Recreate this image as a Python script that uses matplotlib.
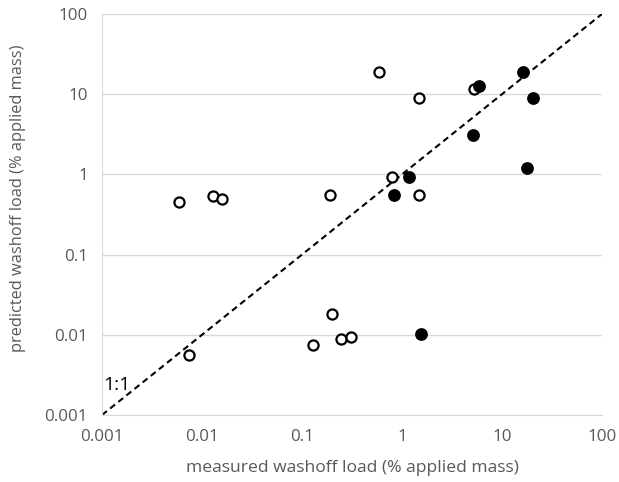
import numpy as np
import matplotlib.pyplot as plt

plt.rcParams['font.family'] = ['Open Sans', 'DejaVu Sans']

# open circles
open_x = [0.0059, 0.0129, 0.0158, 0.0074, 0.19, 0.59, 0.79, 1.48, 1.48, 5.2, 0.20, 0.13, 0.245, 0.31]
open_y = [0.45, 0.54, 0.50, 0.0056, 0.55, 18.9, 0.93, 8.9, 0.56, 11.6, 0.018, 0.0075, 0.0089, 0.0095]

# filled circles
fill_x = [5.9, 16.2, 20.4, 5.1, 17.8, 1.17, 0.83, 1.55]
fill_y = [12.6, 19.0, 9.0, 3.1, 1.2, 0.93, 0.55, 0.0102]

ticks = [0.001, 0.01, 0.1, 1, 10, 100]
tick_labels = ['0.001', '0.01', '0.1', '1', '10', '100']

fig = plt.figure(figsize=(6.19, 4.82), dpi=100)
ax = fig.add_axes([0.1648, 0.139, 0.8077, 0.832])

ax.set_xscale('log')
ax.set_yscale('log')
ax.set_xlim(0.001, 100)
ax.set_ylim(0.001, 100)

ax.grid(axis='y', color='#d9d9d9', linewidth=1)
ax.set_axisbelow(True)

# 1:1 line
ax.plot([0.001, 100], [0.001, 100], color='black', linestyle=(0, (3, 2)), linewidth=1.5, zorder=2)
ax.text(0.00102, 0.0024, '1:1', fontsize=14, color='black', va='center', ha='left')

ax.plot(open_x, open_y, 'o', markersize=7.3, markerfacecolor='white', markeredgecolor='black',
        markeredgewidth=1.6, linestyle='none', zorder=3)
ax.plot(fill_x, fill_y, 'o', markersize=8, markerfacecolor='black', markeredgecolor='black',
        markeredgewidth=1.2, linestyle='none', zorder=3)

ax.set_xticks(ticks)
ax.set_xticklabels(tick_labels)
ax.set_yticks(ticks)
ax.set_yticklabels(tick_labels)
ax.minorticks_off()
ax.tick_params(length=0, colors='#595959', labelsize=12.2, pad=10)

for s in ['top', 'right']:
    ax.spines[s].set_visible(False)
ax.spines['left'].set_color('#d9d9d9')
ax.spines['bottom'].set_color('#d9d9d9')

ax.set_xlabel('measured washoff load (% applied mass)', color='#595959', fontsize=12.6)
ax.set_ylabel('predicted washoff load (% applied mass)', color='#595959', fontsize=11.8)
ax.xaxis.set_label_coords(0.5, -0.112)
ax.yaxis.set_label_coords(-0.152, 0.541)

fig.savefig('out.png', dpi=100)
